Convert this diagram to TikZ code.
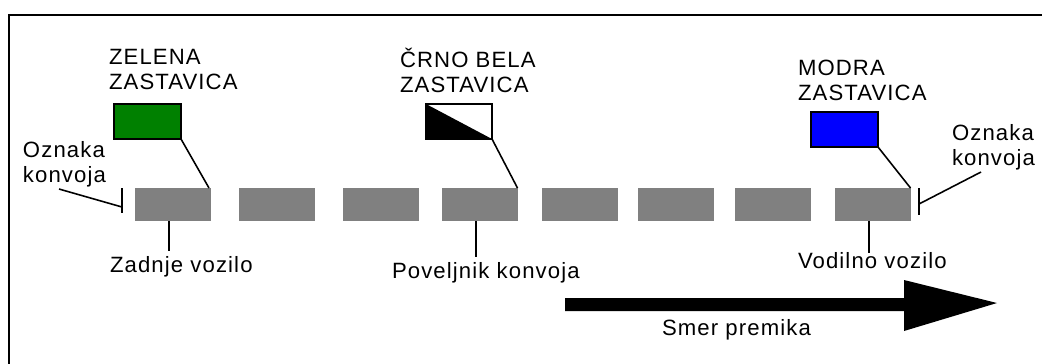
\documentclass[tikz,border=0pt]{standalone}
\usepackage{fontspec}
\setmainfont{Liberation Sans}[LetterSpace=5]
\usetikzlibrary{calc}
\definecolor{vehgray}{RGB}{128,128,128}
\definecolor{flaggreen}{RGB}{0,128,0}
\definecolor{flagblue}{RGB}{0,0,255}
\begin{document}
\begin{tikzpicture}[x=0.02cm,y=-0.02cm,
  lbl/.style={inner sep=0pt,outer sep=0pt,anchor=base west,align=left,
    font=\fontsize{12.6pt}{14pt}\selectfont},
  veh/.style={fill=vehgray,draw=none,inner sep=0pt,outer sep=0pt,
    minimum width={76*0.02cm},minimum height={33*0.02cm}},
  flagbox/.style={draw=black,line width=0.6pt,inner sep=0pt,outer sep=0pt,
    minimum width={67*0.02cm},minimum height={35*0.02cm}},
  conn/.style={line width=0.9pt,black}]
\useasboundingbox (0,0) rectangle (1042,363);
\clip (0,0) rectangle (1042,363);
\fill[white] (0,0) rectangle (1042,363);
% frame
\draw[line width=1.2pt] (9,400) -- (9,15) -- (1100,15);

% vehicles
\node[veh] (v1) at (173,204.5) {};
\node[veh] (v2) at (276.5,204.5) {};
\node[veh] (v3) at (380.5,204.5) {};
\node[veh] (v4) at (479.5,204.5) {};
\node[veh] (v5) at (579.5,204.5) {};
\node[veh] (v6) at (676,204.5) {};
\node[veh] (v7) at (773,204.5) {};
\node[veh] (v8) at (872.5,204.5) {};

% flags
\node[flagbox,fill=flaggreen] (fg) at (147.5,121.5) {};
\node[flagbox,fill=white,minimum width={66*0.02cm}] (fbw) at (459,121.5) {};
\fill[black] (fbw.north west) -- (fbw.south east) -- (fbw.south west) -- cycle;
\draw[line width=0.6pt] (fbw.north west) rectangle (fbw.south east);
\node[flagbox,fill=flagblue] (fb) at (844.5,129.5) {};

% flag labels (anchor = baseline of last line)
\node[lbl] (tg) at (109,89) {ZELENA\\ZASTAVICA};
\node[lbl] (tbw) at (400,92) {ČRNO BELA\\ZASTAVICA};
\node[lbl] (tb) at (798,100) {MODRA\\ZASTAVICA};

% flag connectors
\draw[conn] (fg.south east) -- ($(v1.north east)+(-2,0)$);
\draw[conn] (fbw.south east) -- (v4.north east);
\draw[conn] (fb.south east) -- (v8.north east);

% convoy marks
\node[lbl] (ol) at (23,182) {Oznaka\\konvoja};
\node[lbl] (or) at (952,165) {Oznaka\\konvoja};
\coordinate (tla) at (122,188);
\coordinate (tlb) at (122,213);
\coordinate (tlc) at (122,207);
\coordinate (tld) at (59,189);
\coordinate (tra) at (919,188);
\coordinate (trb) at (919,215);
\coordinate (trc) at (919,204);
\coordinate (trd) at (981,172);
\draw[conn] (tla) -- (tlb);
\draw[conn] (tld) -- (tlc);
\draw[conn] (tra) -- (trb);
\draw[conn] (trd) -- (trc);

% vehicle labels
\node[lbl] (lz) at (110,272) {Zadnje vozilo};
\node[lbl] (lp) at (392,278) {Poveljnik konvoja};
\node[lbl] (lv) at (798,268) {Vodilno vozilo};
\coordinate (lze) at (169,251);
\coordinate (lpe) at (476,257);
\coordinate (lve) at (869,253);
\draw[conn] ($(v1.south)+(-4,0)$) -- (lze);
\draw[conn] ($(v4.south)+(-3.5,0)$) -- (lpe);
\draw[conn] ($(v8.south)+(-3.5,0)$) -- (lve);

% direction arrow
\fill[black] (565,298) -- (904,298) -- (904,280) -- (997,303) -- (904,331) -- (904,311) -- (565,311) -- cycle;
\node[lbl] (ls) at (662,335) {Smer premika};
\end{tikzpicture}
\end{document}
